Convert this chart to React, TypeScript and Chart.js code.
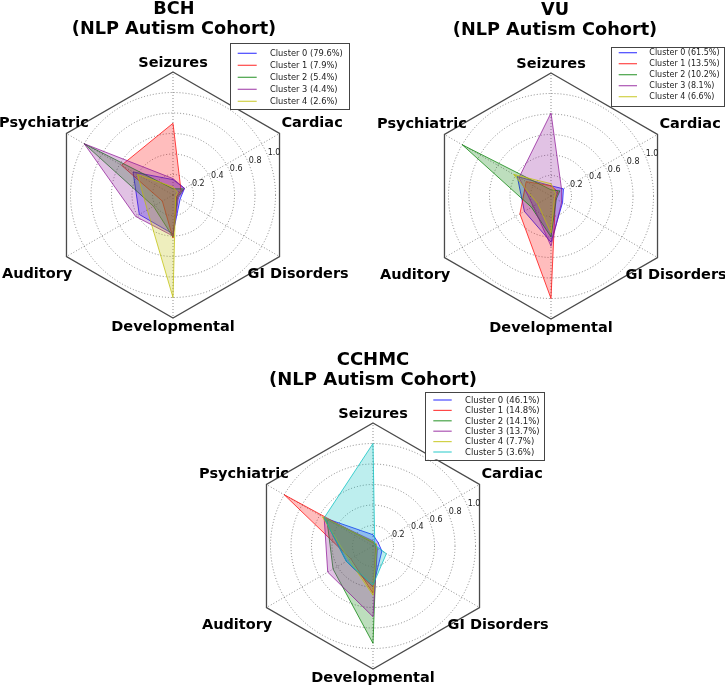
import React, { useEffect, useRef } from 'react';
import { Chart, registerables } from 'chart.js';

Chart.register(...registerables);

// ---------- data ----------
const axisLabels = ['Seizures', 'Cardiac', 'GI Disorders', 'Developmental', 'Auditory', 'Psychiatric'];
const tickValues = [0.2, 0.4, 0.6, 0.8, 1.0];
const tickLabels = ['0.2', '0.4', '0.6', '0.8', '1.0'];
const radialMax = 1.2;

const bchTitle = ['BCH', '(NLP Autism Cohort)'];
const bchLegend = ['Cluster 0 (79.6%)', 'Cluster 1 (7.9%)', 'Cluster 2 (5.4%)', 'Cluster 3 (4.4%)', 'Cluster 4 (2.6%)'];
const bchCluster0 = [0.15, 0.13, 0.08, 0.38, 0.38, 0.45];
const bchCluster1 = [0.70, 0.09, 0.04, 0.42, 0.12, 0.58];
const bchCluster2 = [0.06, 0.12, 0.05, 0.41, 0.22, 1.0];
const bchCluster3 = [0.16, 0.13, 0.06, 0.40, 0.42, 1.0];
const bchCluster4 = [0.08, 0.05, 0.03, 1.0, 0.29, 0.40];

const vuTitle = ['VU', '(NLP Autism Cohort)'];
const vuLegend = ['Cluster 0 (61.5%)', 'Cluster 1 (13.5%)', 'Cluster 2 (10.2%)', 'Cluster 3 (8.1%)', 'Cluster 4 (6.6%)'];
const vuCluster0 = [0.10, 0.14, 0.13, 0.45, 0.30, 0.38];
const vuCluster1 = [0.10, 0.08, 0.05, 1.0, 0.35, 0.28];
const vuCluster2 = [0.06, 0.10, 0.06, 0.40, 0.22, 1.0];
const vuCluster3 = [0.81, 0.12, 0.12, 0.49, 0.20, 0.36];
const vuCluster4 = [0.12, 0.05, 0.04, 0.36, 0.15, 0.42];

const cchmcTitle = ['CCHMC', '(NLP Autism Cohort)'];
const cchmcLegend = ['Cluster 0 (46.1%)', 'Cluster 1 (14.8%)', 'Cluster 2 (14.1%)', 'Cluster 3 (13.7%)', 'Cluster 4 (7.7%)', 'Cluster 5 (3.6%)'];
const cchmcCluster0 = [0.11, 0.06, 0.10, 0.40, 0.30, 0.55];
const cchmcCluster1 = [0.03, 0.02, 0.03, 0.46, 0.25, 1.0];
const cchmcCluster2 = [0.04, 0.03, 0.04, 0.95, 0.45, 0.52];
const cchmcCluster3 = [0.05, 0.03, 0.05, 0.69, 0.51, 0.55];
const cchmcCluster4 = [0.04, 0.04, 0.04, 0.48, 0.27, 0.57];
const cchmcCluster5 = [1.0, 0.02, 0.15, 0.38, 0.30, 0.55];

const clusterColors = ['0,0,255', '255,0,0', '0,128,0', '140,20,150', '191,191,0', '0,191,191'];

// ---------- plugin drawing matplotlib-like decorations ----------
const decorPlugin = {
  id: 'mplDecor',
  afterDatasetsDraw(chart: any, _args: any, opts: any) {
    const scale = chart.scales.r;
    const ctx: CanvasRenderingContext2D = chart.ctx;
    const xc = scale.xCenter;
    const yc = scale.yCenter;
    const R = scale.drawingArea;
    ctx.save();

    // radial tick labels at 22.5 degrees
    ctx.font = '8px "DejaVu Sans"';
    ctx.fillStyle = '#222';
    ctx.textAlign = 'left';
    ctx.textBaseline = 'middle';
    const a = (22.5 * Math.PI) / 180;
    tickValues.forEach((v, i) => {
      const d = scale.getDistanceFromCenterForValue(v);
      ctx.fillText(tickLabels[i], xc + d * Math.cos(a), yc - d * Math.sin(a) - 3);
    });

    // spoke labels
    ctx.font = 'bold 14.5px "DejaVu Sans"';
    ctx.fillStyle = '#000';
    ctx.textAlign = 'center';
    ctx.textBaseline = 'middle';
    axisLabels.forEach((lab, i) => {
      const p = scale.getPointPosition(i, R);
      const ux = (p.x - xc) / R;
      const uy = (p.y - yc) / R;
      const w = ctx.measureText(lab).width;
      let x: number;
      let y: number;
      if (Math.abs(ux) < 0.01) {
        x = xc;
        y = yc + uy * (R + 9);
      } else {
        x = xc + ux * R * 1.507 - Math.sign(ux) * 0.35 * w;
        y = yc + uy * R * 1.225 + 4;
      }
      ctx.fillText(lab, x, y);
    });

    // title
    ctx.font = `bold ${opts.titleSize}px "DejaVu Sans"`;
    ctx.fillText(opts.title[0], xc + opts.titleDx, yc - 186);
    ctx.fillText(opts.title[1], xc + opts.titleDx, yc - 165.8);

    // legend box
    const lg = opts.legend;
    ctx.fillStyle = '#fff';
    ctx.fillRect(lg.left, lg.top, lg.right - lg.left, lg.bottom - lg.top);
    ctx.strokeStyle = '#444';
    ctx.lineWidth = 1;
    ctx.strokeRect(Math.round(lg.left) + 0.5, Math.round(lg.top) + 0.5, Math.round(lg.right - lg.left), Math.round(lg.bottom - lg.top));
    ctx.font = `${lg.font}px "DejaVu Sans"`;
    ctx.textAlign = 'left';
    ctx.textBaseline = 'middle';
    chart.data.datasets.forEach((ds: any, i: number) => {
      const y = lg.row0 + i * lg.rowStep;
      ctx.strokeStyle = ds.borderColor;
      ctx.lineWidth = 1.2;
      ctx.beginPath();
      ctx.moveTo(lg.line0, y);
      ctx.lineTo(lg.line1, y);
      ctx.stroke();
      ctx.fillStyle = '#222';
      ctx.fillText(ds.label, lg.text, y + 0.5);
    });
    ctx.restore();
  },
};

type Panel = {
  x: number;
  y: number;
  w: number;
  h: number;
  pad: { left: number; top: number; right: number; bottom: number };
  title: string[];
  titleSize: number;
  titleDx: number;
  names: string[];
  series: number[][];
  legend: any;
};

function RadarPanel({ p }: { p: Panel }) {
  const ref = useRef<HTMLCanvasElement>(null);
  useEffect(() => {
    const datasets = p.series.map((vals, i) => ({
      label: p.names[i],
      data: vals,
      borderColor: `rgba(${clusterColors[i]},0.72)`,
      backgroundColor: `rgba(${clusterColors[i]},0.26)`,
      borderWidth: 1,
      pointRadius: 0,
      fill: true,
      tension: 0,
      order: p.series.length - i,
    }));
    const chart = new Chart(ref.current as HTMLCanvasElement, {
      type: 'radar',
      data: { labels: axisLabels, datasets },
      options: {
        responsive: false,
        animation: false,
        events: [],
        layout: { padding: p.pad },
        plugins: {
          legend: { display: false },
          title: { display: false },
          tooltip: { enabled: false },
          mplDecor: {
            title: p.title,
            titleSize: p.titleSize,
            titleDx: p.titleDx,
            legend: p.legend,
          },
        } as any,
        scales: {
          r: {
            min: 0,
            max: radialMax,
            afterBuildTicks: (s: any) => {
              s.ticks = [0, ...tickValues, radialMax].map((v) => ({ value: v }));
            },
            ticks: { display: false },
            pointLabels: { display: false },
            angleLines: {
              display: true,
              color: 'rgba(0,0,0,0.45)',
              lineWidth: 1,
              borderDash: [1, 2],
            },
            grid: {
              circular: (c: any) => (c.tick ? c.tick.value < radialMax - 1e-6 : true),
              color: (c: any) => (c.tick && c.tick.value >= radialMax - 1e-6 ? '#4a4a4a' : 'rgba(0,0,0,0.45)'),
              lineWidth: (c: any) => (c.tick && c.tick.value >= radialMax - 1e-6 ? 1.3 : 1),
            },
            border: {
              dash: (c: any) => (c.tick && c.tick.value >= radialMax - 1e-6 ? [] : [1, 2]),
            },
          } as any,
        },
      },
      plugins: [decorPlugin],
    });
    return () => chart.destroy();
  }, []);
  return (
    <canvas
      ref={ref}
      width={p.w}
      height={p.h}
      style={{ position: 'absolute', left: p.x, top: p.y, width: p.w, height: p.h }}
    />
  );
}

const panels: Panel[] = [
  {
    x: 0, y: 0, w: 362, h: 340,
    pad: { left: 50, top: 72, right: 66, bottom: 22 },
    title: bchTitle, titleSize: 17.7, titleDx: 1,
    names: bchLegend,
    series: [bchCluster0, bchCluster1, bchCluster2, bchCluster3, bchCluster4],
    legend: { left: 230, top: 43.3, right: 349.3, bottom: 109.3, row0: 53.3, rowStep: 12, line0: 237.7, line1: 256.7, text: 270, font: 8.3 },
  },
  {
    x: 362, y: 0, w: 363, h: 340,
    pad: { left: 66, top: 73, right: 51, bottom: 21 },
    title: vuTitle, titleSize: 17.7, titleDx: 4,
    names: vuLegend,
    series: [vuCluster0, vuCluster1, vuCluster2, vuCluster3, vuCluster4],
    legend: { left: 249.3, top: 46.7, right: 362.5, bottom: 106, row0: 52.7, rowStep: 11, line0: 256.7, line1: 275, text: 287.3, font: 8 },
  },
  {
    x: 180, y: 340, w: 380, h: 346,
    pad: { left: 70, top: 83, right: 64, bottom: 17 },
    title: cchmcTitle, titleSize: 18, titleDx: 0,
    names: cchmcLegend,
    series: [cchmcCluster0, cchmcCluster1, cchmcCluster2, cchmcCluster3, cchmcCluster4, cchmcCluster5],
    legend: { left: 245, top: 51.7, right: 364.3, bottom: 119.3, row0: 60, rowStep: 10.4, line0: 253.3, line1: 271.7, text: 285, font: 8.5 },
  },
];

export default function App() {
  return (
    <div style={{ position: 'fixed', left: 0, top: 0, width: 725, height: 686, background: '#fff', overflow: 'hidden' }}>
      {panels.map((p, i) => (
        <RadarPanel key={i} p={p} />
      ))}
    </div>
  );
}
